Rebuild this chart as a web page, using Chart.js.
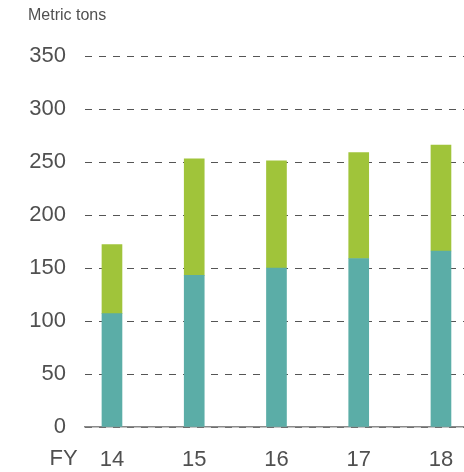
<!DOCTYPE html>
<html>
<head>
<meta charset="utf-8">
<script src="https://cdn.jsdelivr.net/npm/chart.js@4/dist/chart.umd.min.js"></script>
<style>
  html, body { margin: 0; padding: 0; background: #fff; }
  #wrap { width: 464px; height: 472px; position: relative; }
</style>
</head>
<body>
<div id="wrap"><canvas id="chart"></canvas></div>
<script>
const years = ['14', '15', '16', '17', '18']
const lowerValues = [107, 143, 150, 159, 166]
const upperValues = [65, 110, 101, 100, 100]

const textColor = '#505050'
const fontFamily = "'Liberation Sans', Arial, Helvetica, sans-serif"

// extra captions: unit on top, FY prefix beside the first year
const captions = {
  id: 'captions',
  afterDraw(chart) {
    const ctx = chart.ctx
    ctx.save()
    ctx.fillStyle = textColor
    ctx.font = `16px ${fontFamily}`
    ctx.textAlign = 'left'
    ctx.textBaseline = 'alphabetic'
    ctx.fillText('Metric tons', 28, 20)
    ctx.font = `22px ${fontFamily}`
    ctx.textAlign = 'center'
    ctx.textBaseline = 'middle'
    ctx.fillText('FY', 63.5, 459)
    ctx.restore()
  }
}

const toPoints = arr => arr.map((v, i) => ({ x: i, y: v }))

new Chart(document.getElementById('chart'), {
  type: 'bar',
  data: {
    datasets: [
      {
        label: 'lower',
        data: toPoints(lowerValues),
        backgroundColor: '#5BADA7',
        barThickness: 20
      },
      {
        label: 'upper',
        data: toPoints(upperValues),
        backgroundColor: '#A0C43A',
        barThickness: 20
      }
    ]
  },
  options: {
    responsive: true,
    maintainAspectRatio: false,
    animation: false,
    layout: { padding: { top: 56, right: 0, bottom: 0, left: 0 } },
    plugins: {
      legend: { display: false },
      tooltip: { enabled: false }
    },
    scales: {
      x: {
        type: 'linear',
        stacked: true,
        offset: false,
        min: -0.328,
        max: 4.28,
        grid: { display: false, drawTicks: false },
        border: { display: true, color: '#8a8a8a', width: 1.5 },
        ticks: {
          stepSize: 1,
          includeBounds: false,
          autoSkip: false,
          maxRotation: 0,
          padding: 20,
          color: textColor,
          font: { size: 22, family: fontFamily },
          callback: v => years[v] ?? ''
        },
        afterFit: scale => {
          scale.height = 45
          scale.paddingLeft = 0
          scale.paddingRight = 0
        }
      },
      y: {
        stacked: true,
        min: 0,
        max: 350,
        grid: {
          color: '#555',
          lineWidth: 1,
          drawTicks: false
        },
        border: { display: false, dash: [7, 7] },
        ticks: {
          stepSize: 50,
          padding: 19,
          color: textColor,
          font: { size: 22, family: fontFamily }
        },
        afterFit: scale => { scale.width = 85 }
      }
    }
  },
  plugins: [captions]
})
</script>
</body>
</html>
